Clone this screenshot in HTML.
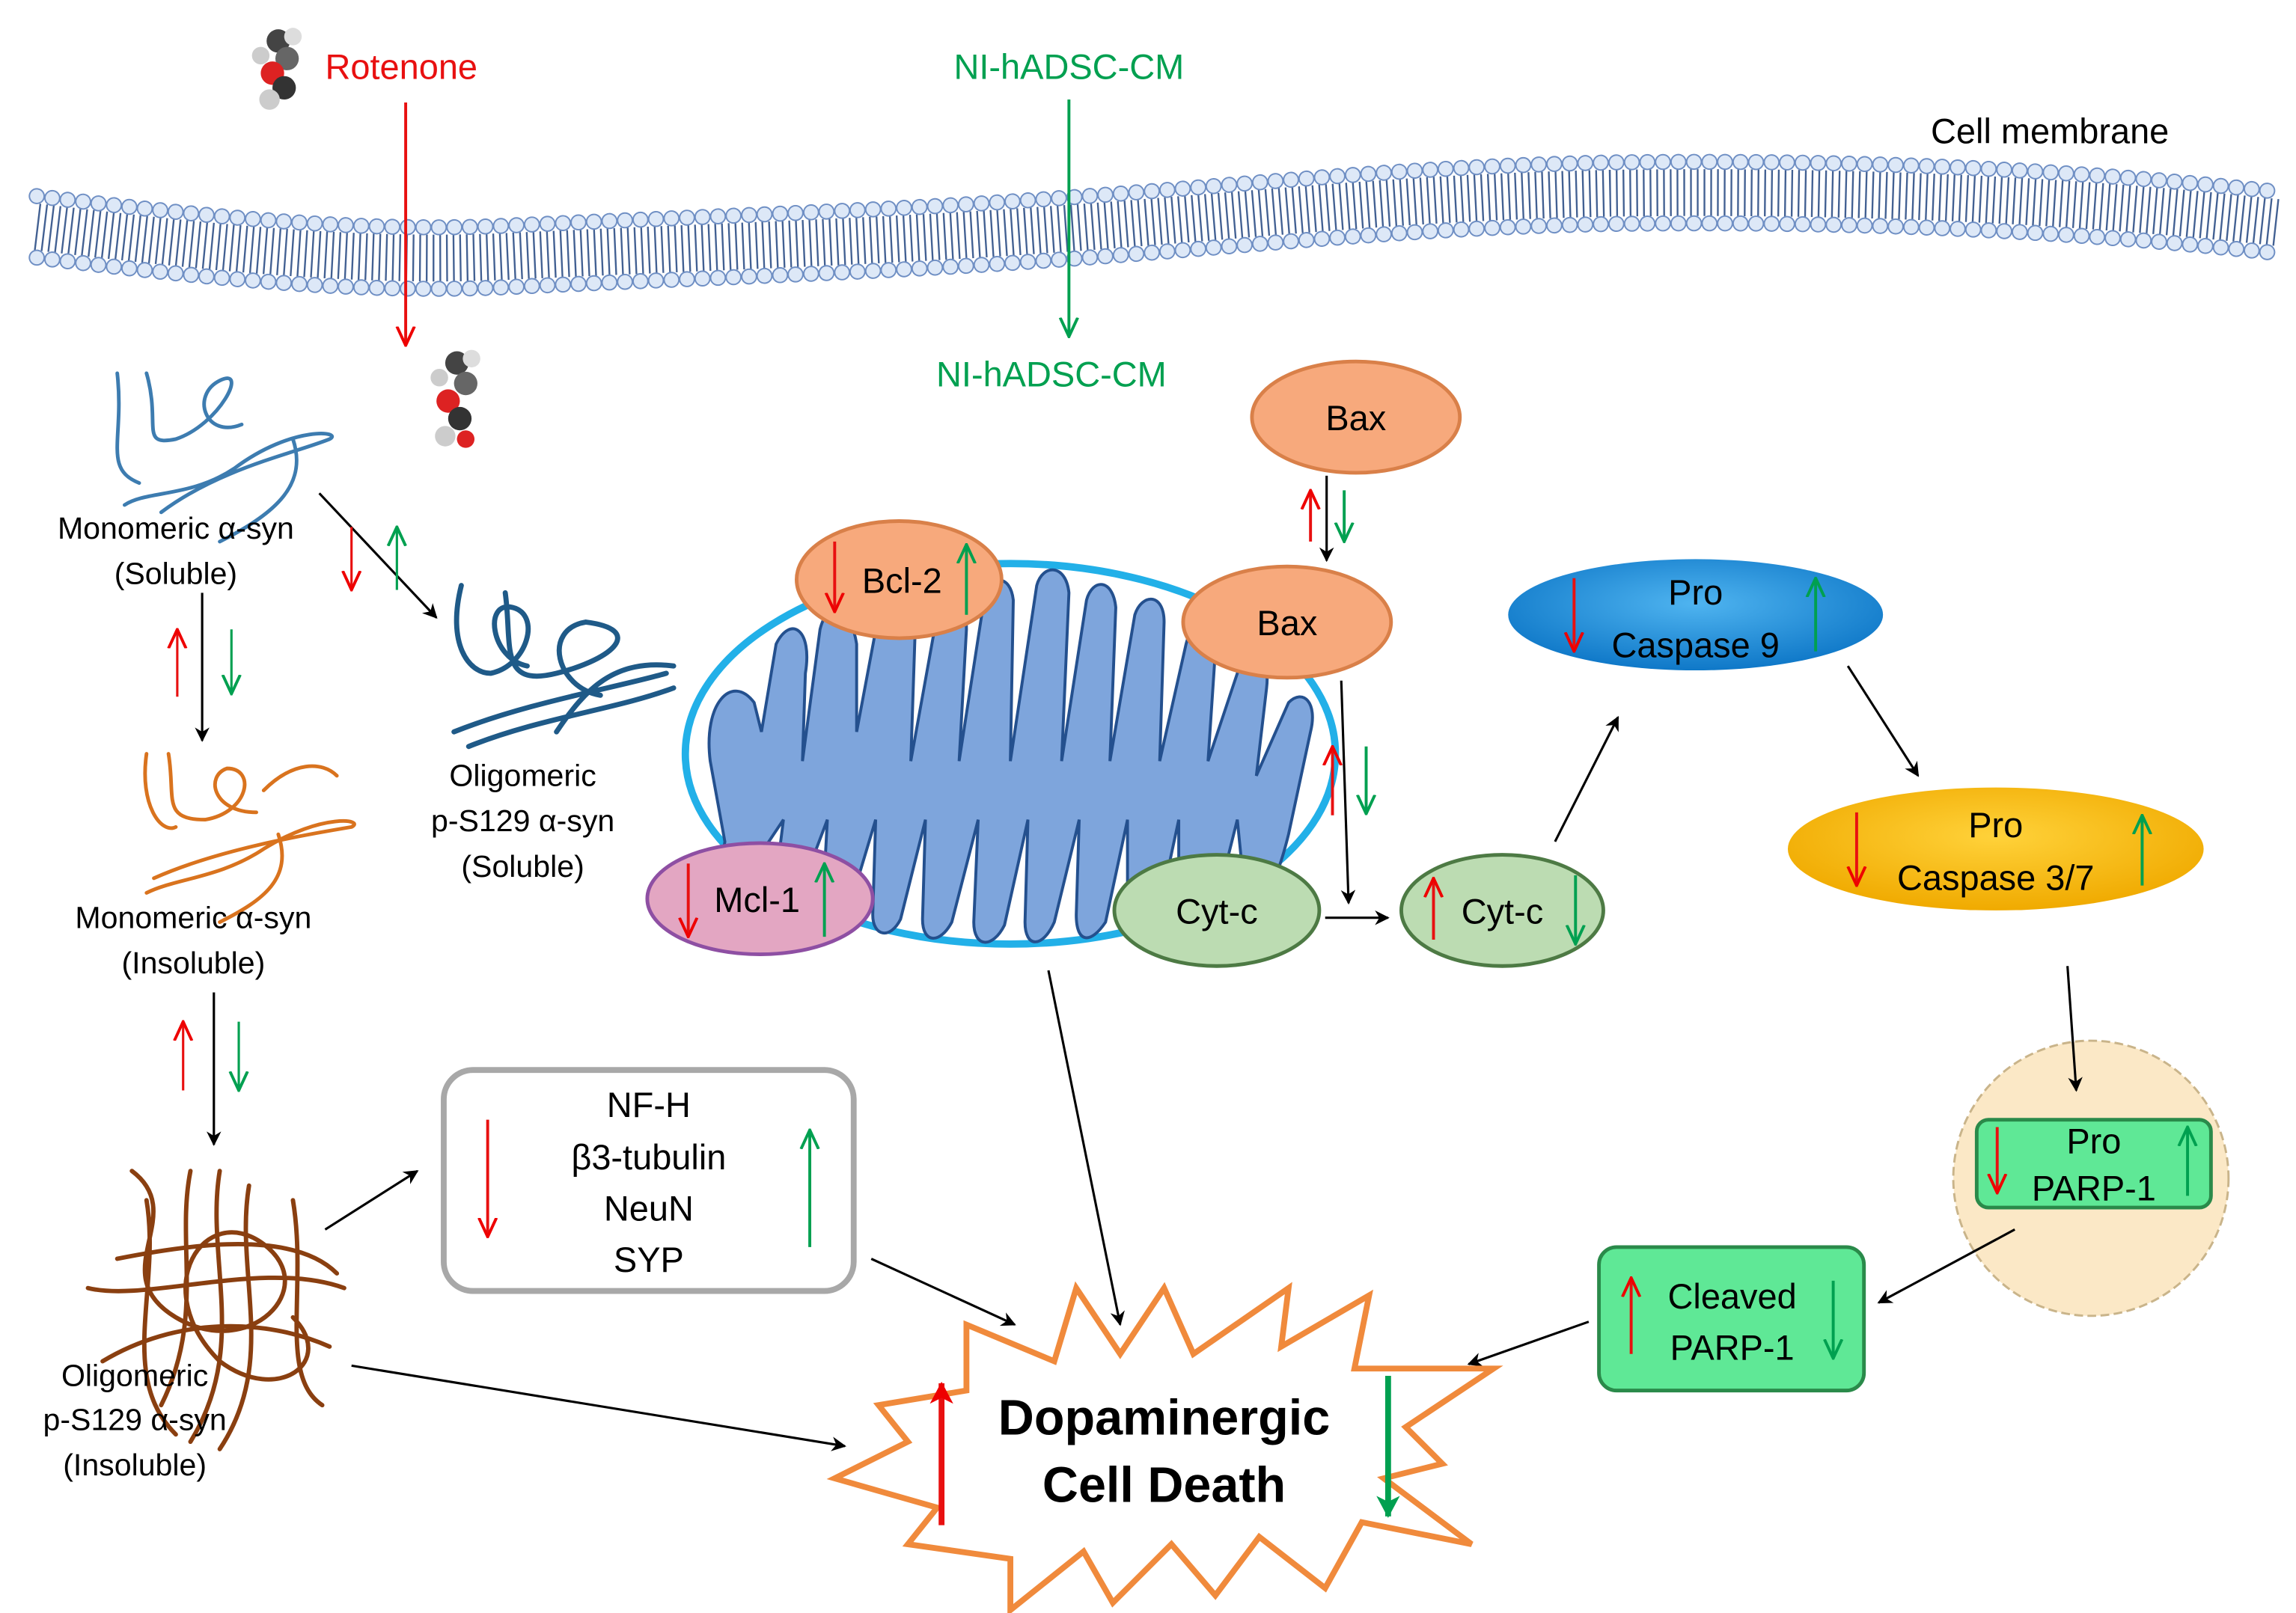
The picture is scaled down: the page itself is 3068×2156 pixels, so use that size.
<!DOCTYPE html>
<html><head><meta charset="utf-8"><style>
html,body{margin:0;padding:0;background:#fff}
svg{display:block}
text{font-family:"Liberation Sans",Arial,sans-serif}
</style></head><body>
<svg width="3068" height="2156" viewBox="0 0 1568 1102" xmlns="http://www.w3.org/2000/svg">
<defs>
<marker id="ak" markerWidth="10" markerHeight="10" refX="9" refY="5" orient="auto" markerUnits="userSpaceOnUse"><path d="M0,0 L10,5 L0,10 L3,5z" fill="#000"/></marker>
<marker id="ar" markerWidth="14" markerHeight="14" refX="13" refY="7" orient="auto" markerUnits="userSpaceOnUse"><path d="M0,1 L13,7 L0,13" fill="none" stroke="#e00" stroke-width="2"/></marker>
<marker id="ag" markerWidth="14" markerHeight="14" refX="13" refY="7" orient="auto" markerUnits="userSpaceOnUse"><path d="M0,1 L13,7 L0,13" fill="none" stroke="#00a050" stroke-width="2"/></marker>
<marker id="arB" markerWidth="16" markerHeight="16" refX="14" refY="8" orient="auto" markerUnits="userSpaceOnUse"><path d="M0,0 L15,8 L0,16 L4,8z" fill="#e00"/></marker>
<marker id="agB" markerWidth="16" markerHeight="16" refX="14" refY="8" orient="auto" markerUnits="userSpaceOnUse"><path d="M0,0 L15,8 L0,16 L4,8z" fill="#00a050"/></marker>
<radialGradient id="c9" cx="50%" cy="40%" r="60%"><stop offset="0" stop-color="#4fb4f0"/><stop offset="1" stop-color="#0f78c8"/></radialGradient>
<radialGradient id="c37" cx="50%" cy="40%" r="60%"><stop offset="0" stop-color="#ffd23a"/><stop offset="1" stop-color="#f0aa00"/></radialGradient>
</defs>

<!-- membrane -->
<g fill="none">
<path d="M25,155 C150,170 250,180 350,175 C500,168 600,165 700,158 C850,148 950,135 1100,132 C1250,130 1400,135 1555,152" stroke="#2e4f86" stroke-width="32" stroke-dasharray="1.2 3.4" opacity="0.9"/>
<path d="M25,155 C150,170 250,180 350,175 C500,168 600,165 700,158 C850,148 950,135 1100,132 C1250,130 1400,135 1555,152" transform="translate(0,-21)" stroke="#6f8fc4" stroke-width="11" stroke-dasharray="0.1 10.5" stroke-linecap="round"/>
<path d="M25,155 C150,170 250,180 350,175 C500,168 600,165 700,158 C850,148 950,135 1100,132 C1250,130 1400,135 1555,152" transform="translate(0,-21)" stroke="#dde8f7" stroke-width="9" stroke-dasharray="0.1 10.5" stroke-linecap="round"/>
<path d="M25,155 C150,170 250,180 350,175 C500,168 600,165 700,158 C850,148 950,135 1100,132 C1250,130 1400,135 1555,152" transform="translate(0,21)" stroke="#6f8fc4" stroke-width="11" stroke-dasharray="0.1 10.5" stroke-linecap="round"/>
<path d="M25,155 C150,170 250,180 350,175 C500,168 600,165 700,158 C850,148 950,135 1100,132 C1250,130 1400,135 1555,152" transform="translate(0,21)" stroke="#dde8f7" stroke-width="9" stroke-dasharray="0.1 10.5" stroke-linecap="round"/>
</g>
<text x="1400" y="98" font-size="24" text-anchor="middle">Cell membrane</text>

<!-- molecules -->
<g>
<circle cx="190" cy="28" r="8" fill="#444"/><circle cx="196" cy="40" r="8" fill="#666"/><circle cx="186" cy="50" r="8" fill="#d22"/><circle cx="194" cy="60" r="8" fill="#333"/><circle cx="184" cy="68" r="7" fill="#ccc"/><circle cx="200" cy="25" r="6" fill="#ddd"/><circle cx="178" cy="38" r="6" fill="#ccc"/>
<circle cx="312" cy="248" r="8" fill="#444"/><circle cx="318" cy="262" r="8" fill="#666"/><circle cx="306" cy="274" r="8" fill="#d22"/><circle cx="314" cy="286" r="8" fill="#333"/><circle cx="304" cy="298" r="7" fill="#ccc"/><circle cx="322" cy="245" r="6" fill="#ddd"/><circle cx="300" cy="258" r="6" fill="#ccc"/><circle cx="318" cy="300" r="6" fill="#d22"/>
</g>
<text x="222" y="54" font-size="24" fill="#e81010">Rotenone</text>
<line x1="277" y1="70" x2="277" y2="236" stroke="#e81010" stroke-width="2" marker-end="url(#ar)"/>
<text x="730" y="54" font-size="24" fill="#00a050" text-anchor="middle">NI-hADSC-CM</text>
<line x1="730" y1="68" x2="730" y2="230" stroke="#00a050" stroke-width="2" marker-end="url(#ag)"/>
<text x="718" y="264" font-size="24" fill="#00a050" text-anchor="middle">NI-hADSC-CM</text>

<!-- squiggles -->
<g fill="none" stroke-linecap="round">
<path d="M80,255 C85,300 70,320 95,330 M100,255 C110,290 95,305 120,300 C150,290 170,250 150,260 C130,270 140,300 165,290 M110,350 C150,320 200,310 225,300 C235,295 200,290 160,320 C130,340 100,335 85,345 M200,300 C210,330 190,350 150,370" stroke="#3d7cb0" stroke-width="2.5"/>
<path d="M315,400 C305,440 320,460 335,460 C360,455 370,420 350,415 C330,410 335,450 360,455 M345,405 C350,440 340,470 380,460 C420,450 440,430 400,425 C370,430 380,470 410,475 M310,500 C360,480 420,470 455,460 M320,510 C370,490 420,485 460,470 M380,500 C400,470 420,450 460,455" stroke="#1f5a88" stroke-width="3.5"/>
<path d="M100,515 C95,550 110,570 120,565 M115,515 C120,545 110,560 140,560 C170,555 175,525 155,525 C140,530 145,555 175,555 M105,600 C150,580 210,570 240,565 C250,560 220,555 180,580 C150,600 120,600 100,610 M190,570 C200,600 180,615 150,630 M180,540 C200,520 220,520 230,530" stroke="#d9731e" stroke-width="2.5"/>
<path d="M90,800 C130,830 70,870 120,900 C170,930 220,880 180,850 C140,820 100,880 150,930 C190,960 230,930 200,900 M80,860 C130,850 200,840 230,870 M70,930 C120,900 180,900 225,920 M150,800 C140,860 170,920 130,985 M170,810 C160,870 190,930 150,990 M100,820 C110,880 80,940 120,980 M200,820 C210,880 190,940 220,960 M60,880 C100,890 180,860 235,880 M130,800 C120,850 140,900 110,960" stroke="#8a3f10" stroke-width="3"/>
</g>

<!-- left texts -->
<g font-size="21" text-anchor="middle">
<text x="120" y="368">Monomeric α-syn</text><text x="120" y="399">(Soluble)</text>
<text x="132" y="634">Monomeric α-syn</text><text x="132" y="665">(Insoluble)</text>
<text x="92" y="947">Oligomeric</text><text x="92" y="977">p-S129 α-syn</text><text x="92" y="1008">(Insoluble)</text>
<text x="357" y="537">Oligomeric</text><text x="357" y="568">p-S129 α-syn</text><text x="357" y="599">(Soluble)</text>
</g>

<!-- left arrows -->
<g stroke-width="1.6">
<line x1="218" y1="337" x2="298" y2="422" stroke="#000" marker-end="url(#ak)"/>
<line x1="240" y1="360" x2="240" y2="403" stroke="#e81010" marker-end="url(#ar)"/>
<line x1="271" y1="403" x2="271" y2="360" stroke="#00a050" marker-end="url(#ag)"/>
<line x1="138" y1="405" x2="138" y2="506" stroke="#000" marker-end="url(#ak)"/>
<line x1="121" y1="476" x2="121" y2="430" stroke="#e81010" marker-end="url(#ar)"/>
<line x1="158" y1="430" x2="158" y2="474" stroke="#00a050" marker-end="url(#ag)"/>
<line x1="146" y1="678" x2="146" y2="782" stroke="#000" marker-end="url(#ak)"/>
<line x1="125" y1="745" x2="125" y2="698" stroke="#e81010" marker-end="url(#ar)"/>
<line x1="163" y1="698" x2="163" y2="745" stroke="#00a050" marker-end="url(#ag)"/>
<line x1="222" y1="840" x2="285" y2="800" stroke="#000" marker-end="url(#ak)"/>
<line x1="240" y1="933" x2="577" y2="988" stroke="#000" marker-end="url(#ak)"/>
<line x1="595" y1="860" x2="693" y2="905" stroke="#000" marker-end="url(#ak)"/>
<line x1="716" y1="663" x2="765" y2="905" stroke="#000" marker-end="url(#ak)"/>
</g>

<!-- markers box -->
<rect x="303" y="731" width="280" height="151" rx="20" fill="#fff" stroke="#a8a8a8" stroke-width="4"/>
<g font-size="24" text-anchor="middle">
<text x="443" y="763">NF-H</text><text x="443" y="799">β3-tubulin</text><text x="443" y="834">NeuN</text><text x="443" y="869">SYP</text>
</g>
<line x1="333" y1="765" x2="333" y2="845" stroke="#e81010" stroke-width="2" marker-end="url(#ar)"/>
<line x1="553" y1="852" x2="553" y2="772" stroke="#00a050" stroke-width="2" marker-end="url(#ag)"/>

<!-- mitochondrion -->
<ellipse cx="690" cy="515" rx="222" ry="130" fill="#fff" stroke="#22b0e8" stroke-width="5"/>
<path d="M485,520 C480,480 500,460 515,480 L520,500 L530,440 C540,420 555,430 550,460 L548,520 L560,430 C565,410 580,410 585,440 L585,500 L600,420 C605,400 625,400 625,430 L622,520 L640,420 C645,400 660,405 660,430 L655,520 L672,410 C676,392 690,392 692,410 L690,520 L708,400 C712,385 728,385 730,405 L725,520 L742,410 C746,395 760,395 762,415 L758,520 L775,420 C780,405 795,405 795,425 L792,520 L810,440 C815,420 830,420 830,445 L825,520 L845,460 C852,440 868,445 865,470 L858,530 L880,480 C890,470 900,480 895,500 L880,570 C870,610 860,625 850,610 L845,560 L830,620 C820,640 808,640 805,620 L805,560 L790,630 C780,645 770,640 770,625 L770,560 L755,630 C745,645 735,645 735,625 L737,560 L720,630 C712,648 700,648 700,630 L702,560 L686,632 C678,648 665,648 665,630 L668,560 L650,630 C642,645 630,645 630,628 L632,560 L615,628 C608,642 596,640 596,625 L598,560 L580,620 C572,634 562,630 562,615 L565,560 L548,605 C540,620 528,615 530,600 L535,560 L515,590 C505,600 492,590 495,575 Z" fill="#7ea5dc" stroke="#24508e" stroke-width="2"/>

<!-- cell circle (drawn before arrows) -->
<circle cx="1428" cy="805" r="94" fill="#fbe8c6" stroke="#c9b48a" stroke-width="1.5" stroke-dasharray="6 3"/>

<!-- proteins -->
<g stroke-width="2.5">
<ellipse cx="926" cy="285" rx="71" ry="38" fill="#f7a97c" stroke="#d98049"/>
<ellipse cx="879" cy="425" rx="71" ry="38" fill="#f7a97c" stroke="#d98049"/>
<ellipse cx="614" cy="396" rx="70" ry="40" fill="#f7a97c" stroke="#d98049"/>
<ellipse cx="519" cy="614" rx="77" ry="38" fill="#e3a6c2" stroke="#8e4fa3"/>
<ellipse cx="831" cy="622" rx="70" ry="38" fill="#bcdcb2" stroke="#4d7a44"/>
<ellipse cx="1026" cy="622" rx="69" ry="38" fill="#bcdcb2" stroke="#4d7a44"/>
<ellipse cx="1158" cy="420" rx="128" ry="38" fill="url(#c9)"/>
<ellipse cx="1363" cy="580" rx="142" ry="42" fill="url(#c37)"/>
</g>
<g font-size="24" text-anchor="middle">
<text x="926" y="294">Bax</text><text x="879" y="434">Bax</text><text x="616" y="405">Bcl-2</text>
<text x="517" y="623">Mcl-1</text><text x="831" y="631">Cyt-c</text><text x="1026" y="631">Cyt-c</text>
<text x="1158" y="413">Pro</text><text x="1158" y="449">Caspase 9</text>
<text x="1363" y="572">Pro</text><text x="1363" y="608">Caspase 3/7</text>
</g>
<g stroke-width="2">
<line x1="570" y1="370" x2="570" y2="418" stroke="#e81010" marker-end="url(#ar)"/>
<line x1="660" y1="420" x2="660" y2="372" stroke="#00a050" marker-end="url(#ag)"/>
<line x1="470" y1="590" x2="470" y2="640" stroke="#e81010" marker-end="url(#ar)"/>
<line x1="563" y1="640" x2="563" y2="590" stroke="#00a050" marker-end="url(#ag)"/>
<line x1="979" y1="642" x2="979" y2="600" stroke="#e81010" marker-end="url(#ar)"/>
<line x1="1076" y1="598" x2="1076" y2="645" stroke="#00a050" marker-end="url(#ag)"/>
<line x1="1075" y1="395" x2="1075" y2="445" stroke="#e81010" marker-end="url(#ar)"/>
<line x1="1240" y1="445" x2="1240" y2="395" stroke="#00a050" marker-end="url(#ag)"/>
<line x1="1268" y1="555" x2="1268" y2="605" stroke="#e81010" marker-end="url(#ar)"/>
<line x1="1463" y1="605" x2="1463" y2="557" stroke="#00a050" marker-end="url(#ag)"/>
<line x1="895" y1="370" x2="895" y2="335" stroke="#e81010" marker-end="url(#ar)"/>
<line x1="918" y1="335" x2="918" y2="370" stroke="#00a050" marker-end="url(#ag)"/>
<line x1="910" y1="557" x2="910" y2="510" stroke="#e81010" marker-end="url(#ar)"/>
<line x1="933" y1="510" x2="933" y2="556" stroke="#00a050" marker-end="url(#ag)"/>
</g>
<g stroke="#000" stroke-width="1.6">
<line x1="906" y1="325" x2="906" y2="383" marker-end="url(#ak)"/>
<line x1="916" y1="465" x2="921" y2="617" marker-end="url(#ak)"/>
<line x1="905" y1="627" x2="948" y2="627" marker-end="url(#ak)"/>
<line x1="1062" y1="575" x2="1105" y2="490" marker-end="url(#ak)"/>
<line x1="1262" y1="455" x2="1310" y2="530" marker-end="url(#ak)"/>
<line x1="1412" y1="660" x2="1418" y2="745" marker-end="url(#ak)"/>
<line x1="1376" y1="840" x2="1283" y2="890" marker-end="url(#ak)"/>
<line x1="1085" y1="903" x2="1003" y2="932" marker-end="url(#ak)"/>
</g>

<!-- PARP -->
<rect x="1350" y="765" width="160" height="60" rx="8" fill="#5fe896" stroke="#2a8a4a" stroke-width="2.5"/>
<text x="1430" y="788" font-size="24" text-anchor="middle">Pro</text>
<text x="1430" y="820" font-size="24" text-anchor="middle">PARP-1</text>
<line x1="1364" y1="770" x2="1364" y2="815" stroke="#e81010" stroke-width="2" marker-end="url(#ar)"/>
<line x1="1494" y1="817" x2="1494" y2="770" stroke="#00a050" stroke-width="2" marker-end="url(#ag)"/>
<rect x="1092" y="852" width="181" height="98" rx="12" fill="#5fe896" stroke="#2a8a4a" stroke-width="2.5"/>
<text x="1183" y="894" font-size="24" text-anchor="middle">Cleaved</text>
<text x="1183" y="929" font-size="24" text-anchor="middle">PARP-1</text>
<line x1="1114" y1="925" x2="1114" y2="873" stroke="#e81010" stroke-width="2" marker-end="url(#ar)"/>
<line x1="1252" y1="875" x2="1252" y2="928" stroke="#00a050" stroke-width="2" marker-end="url(#ag)"/>

<!-- starburst -->
<path d="M660,905 L720,930 L735,880 L765,925 L795,880 L815,925 L880,880 L875,920 L935,885 L925,935 L1020,935 L960,975 L985,1000 L945,1010 L1005,1055 L930,1040 L905,1085 L860,1050 L830,1090 L800,1055 L760,1095 L740,1060 L690,1100 L690,1065 L620,1055 L640,1030 L570,1010 L620,985 L600,960 L660,950 Z" fill="#fff" stroke="#f08a3c" stroke-width="4" stroke-linejoin="miter"/>
<text x="795" y="980" font-size="34" font-weight="bold" text-anchor="middle">Dopaminergic</text>
<text x="795" y="1026" font-size="34" font-weight="bold" text-anchor="middle">Cell Death</text>
<line x1="643" y1="1042" x2="643" y2="945" stroke="#e81010" stroke-width="4" marker-end="url(#arB)"/>
<line x1="948" y1="940" x2="948" y2="1036" stroke="#00a050" stroke-width="4" marker-end="url(#agB)"/>
</svg>
</body></html>
